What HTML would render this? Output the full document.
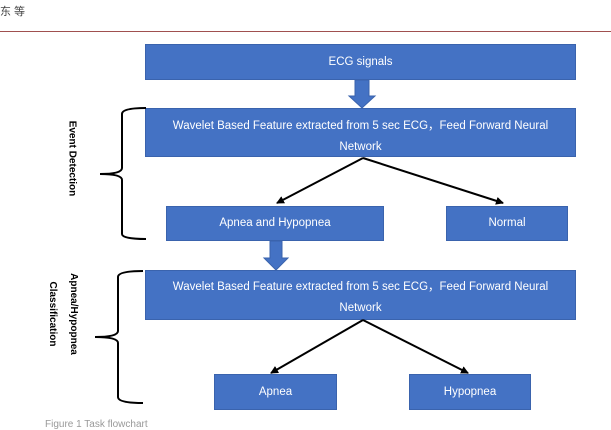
<!DOCTYPE html>
<html><head><meta charset="utf-8"><style>
body{margin:0;width:611px;height:424px;background:#fff;overflow:hidden;position:relative;font-family:"Liberation Sans","Noto Sans CJK SC",sans-serif}
.b{position:absolute;background:#4472c4;border:1px solid #3a63ad;box-sizing:border-box;color:#fff;font-size:11.5px;display:flex;align-items:center;justify-content:center;text-align:center;line-height:21px}
.v{position:absolute;font-size:10px;font-weight:bold;color:#000;transform:rotate(90deg);transform-origin:center;white-space:nowrap;text-align:center;line-height:21px}
</style></head><body>
<div style="position:absolute;left:0;top:3px;font-size:11px;color:#444">东 等</div>
<div style="position:absolute;left:0;top:31px;width:611px;height:1px;background:#a0504f"></div>
<div class="b" style="left:145px;top:44px;width:431px;height:36px">ECG signals</div>
<div class="b" style="left:145px;top:108px;width:431px;height:49px;padding:8px 15px 0">Wavelet Based Feature extracted from 5 sec ECG，Feed Forward Neural Network</div>
<div class="b" style="left:166px;top:206px;width:218px;height:35px">Apnea and Hypopnea</div>
<div class="b" style="left:446px;top:206px;width:122px;height:35px">Normal</div>
<div class="b" style="left:145px;top:270px;width:431px;height:50px;padding:6px 15px 0">Wavelet Based Feature extracted from 5 sec ECG，Feed Forward Neural Network</div>
<div class="b" style="left:214px;top:374px;width:123px;height:36px">Apnea</div>
<div class="b" style="left:409px;top:374px;width:122px;height:36px">Hypopnea</div>
<svg width="611" height="424" style="position:absolute;left:0;top:0">
<defs><marker id="a" markerWidth="8" markerHeight="8" refX="7" refY="4" orient="auto" markerUnits="userSpaceOnUse"><path d="M0,0L8,4L0,8z" fill="#000"/></marker></defs>
<polygon points="355,80 369,80 369,96 375,96 362,108 349,96 355,96" fill="#4472c4" stroke="#3a63ad"/>
<polygon points="270,241 282,241 282,258 288,258 276,270 264,258 270,258" fill="#4472c4" stroke="#3a63ad"/>
<g stroke="#000" stroke-width="2" marker-end="url(#a)">
<line x1="363" y1="158" x2="277" y2="203"/><line x1="363" y1="158" x2="503" y2="203"/>
<line x1="363" y1="320" x2="271" y2="373"/><line x1="363" y1="320" x2="468" y2="373"/>
</g>
<g fill="none" stroke="#000" stroke-width="2">
<path d="M146,108 Q122,108 122,114 L122,168 Q122,174 100,174 Q122,174 122,180 L122,234 Q122,239 146,239"/>
<path d="M143,271 Q118,271 118,277 L118,331 Q118,337 95,337 Q118,337 118,343 L118,397 Q118,403 143,403"/>
</g>
</svg>
<div class="v" style="left:22px;top:148px;width:100px;height:21px">Event Detection</div>
<div class="v" style="left:8px;top:293px;width:110px;height:42px">Apnea/Hypopnea<br>Classification</div>
<div style="position:absolute;left:45px;top:419px;font-size:10px;color:#999">Figure 1  Task flowchart</div>
</body></html>
